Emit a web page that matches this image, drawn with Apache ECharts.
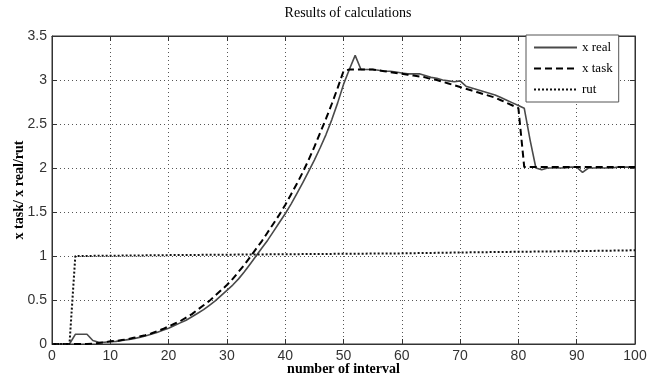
<!DOCTYPE html>
<html>
<head>
<meta charset="utf-8">
<script src="https://cdn.jsdelivr.net/npm/echarts@6/dist/echarts.min.js"></script>
<style>
    html, body {margin: 0; padding: 0; background: #fff;}
    #chart {width: 647px; height: 379px;}
</style>
</head>
<body>
<div id="chart"></div>
<script>
// number of interval, 0..100
const intervals = [
    0, 1, 2, 3, 4, 5, 6, 7, 8, 9,
    10, 11, 12, 13, 14, 15, 16, 17, 18, 19,
    20, 21, 22, 23, 24, 25, 26, 27, 28, 29,
    30, 31, 32, 33, 34, 35, 36, 37, 38, 39,
    40, 41, 42, 43, 44, 45, 46, 47, 48, 49,
    50, 51, 52, 53, 54, 55, 56, 57, 58, 59,
    60, 61, 62, 63, 64, 65, 66, 67, 68, 69,
    70, 71, 72, 73, 74, 75, 76, 77, 78, 79,
    80, 81, 82, 83, 84, 85, 86, 87, 88, 89,
    90, 91, 92, 93, 94, 95, 96, 97, 98, 99,
    100
]

const xReal = [
    0, 0, 0, 0, 0.11, 0.11, 0.11, 0.04, 0.02, 0.02,
    0.025, 0.03, 0.04, 0.05, 0.06, 0.075, 0.09, 0.11, 0.13, 0.155,
    0.18, 0.21, 0.24, 0.27, 0.31, 0.35, 0.39, 0.44, 0.49, 0.55,
    0.61, 0.67, 0.74, 0.82, 0.91, 1.0, 1.09, 1.18, 1.28, 1.38,
    1.48, 1.59, 1.71, 1.83, 1.96, 2.09, 2.23, 2.38, 2.55, 2.74,
    2.95, 3.12, 3.28, 3.12, 3.12, 3.12, 3.11, 3.1, 3.1, 3.09,
    3.08, 3.07, 3.07, 3.07, 3.05, 3.03, 3.02, 3.0, 2.99, 2.98,
    2.99, 2.93, 2.91, 2.89, 2.87, 2.85, 2.83, 2.8, 2.77, 2.74,
    2.71, 2.68, 2.32, 2.0, 1.98, 2.0, 2.0, 2.0, 2.0, 2.01,
    2.01, 1.95, 2.0, 2.0, 2.0, 2.0, 2.0, 2.01, 2.01, 2.01,
    2.0
]

const xTask = [
    0, 0, 0, 0, 0, 0, 0, 0.005, 0.01, 0.02,
    0.03, 0.035, 0.045, 0.055, 0.07, 0.085, 0.1, 0.12, 0.145, 0.17,
    0.2, 0.23, 0.26, 0.3, 0.34, 0.39, 0.44, 0.49, 0.55, 0.61,
    0.67, 0.74, 0.82, 0.9, 0.99, 1.08, 1.17, 1.27, 1.37, 1.47,
    1.58, 1.7, 1.82, 1.95, 2.09, 2.24, 2.4, 2.56, 2.73, 2.91,
    3.1, 3.12, 3.12, 3.12, 3.12, 3.12, 3.11, 3.1, 3.09, 3.08,
    3.07, 3.06, 3.05, 3.04, 3.03, 3.01, 3.0, 2.98, 2.96, 2.94,
    2.92, 2.9, 2.88, 2.86, 2.84, 2.82, 2.8, 2.77, 2.74, 2.71,
    2.68, 2.01, 2.01, 2.01, 2.01, 2.01, 2.01, 2.01, 2.01, 2.01,
    2.01, 2.01, 2.01, 2.01, 2.01, 2.01, 2.01, 2.01, 2.01, 2.01,
    2.01
]

// rut is read at fewer points
const rutX = [0, 1, 2, 3, 4, 10, 20, 30, 40, 50, 60, 70, 80, 90, 100]
const rutY = [0, 0, 0, 0, 1.0, 1.003, 1.01, 1.015, 1.02, 1.025, 1.03, 1.04, 1.048, 1.055, 1.065]

const pairs = (xs, ys) => xs.map((x, i) => [x, ys[i]])

const chart = echarts.init(document.getElementById('chart'))

const tickFont = {fontFamily: '"Liberation Sans", Arial, sans-serif', fontSize: 14, color: '#333'}
const gridLine = {show: true, lineStyle: {color: '#555', width: 1, type: [1, 3]}}

const option = {
    backgroundColor: '#fff',
    animation: false,
    title: {
        text: 'Results of calculations',
        left: 343,
        top: 1,
        textAlign: 'center',
        textStyle: {fontFamily: '"Liberation Serif", "Times New Roman", serif', fontSize: 14, fontWeight: 'normal', color: '#000'}
    },
    legend: {
        orient: 'vertical',
        left: 526,
        top: 35,
        padding: [6, 6, 6, 7],
        itemGap: 8,
        itemWidth: 43,
        itemHeight: 14,
        backgroundColor: '#fff',
        borderColor: '#555',
        borderWidth: 1,
        borderRadius: 0,
        itemStyle: {opacity: 0},
        textStyle: {fontFamily: '"Liberation Serif", "Times New Roman", serif', fontSize: 13, color: '#000'},
        data: ['x real', 'x task', 'rut']
    },
    grid: {
        left: 52,
        right: 12,
        top: 36,
        bottom: 35,
        containLabel: false,
        outerBoundsMode: 'none',
        show: true,
        borderColor: '#333',
        borderWidth: 1
    },
    xAxis: [
        {
            type: 'value',
            min: 0,
            max: 100,
            interval: 10,
            name: 'number of interval',
            nameLocation: 'middle',
            nameGap: 18,
            nameMoveOverlap: false,
            nameTextStyle: {fontFamily: '"Liberation Serif", "Times New Roman", serif', fontSize: 14, fontWeight: 'bold', color: '#000', verticalAlign: 'top'},
            axisLine: {show: true, onZero: false, lineStyle: {color: '#333'}},
            axisTick: {show: true, inside: true, length: 5, lineStyle: {color: '#333'}},
            axisLabel: Object.assign({margin: 5}, tickFont),
            splitLine: gridLine
        },
        {
            type: 'value',
            position: 'top',
            min: 0,
            max: 100,
            interval: 10,
            axisLine: {show: true, onZero: false, lineStyle: {color: '#333'}},
            axisTick: {show: true, inside: true, length: 5, lineStyle: {color: '#333'}},
            axisLabel: {show: false},
            splitLine: {show: false}
        }
    ],
    yAxis: [
        {
            type: 'value',
            min: 0,
            max: 3.5,
            interval: 0.5,
            name: 'x task/ x real/rut',
            nameLocation: 'middle',
            nameGap: 26,
            nameMoveOverlap: false,
            nameTextStyle: {fontFamily: '"Liberation Serif", "Times New Roman", serif', fontSize: 14, fontWeight: 'bold', color: '#000'},
            axisLine: {show: true, onZero: false, lineStyle: {color: '#333'}},
            axisTick: {show: true, inside: true, length: 5, lineStyle: {color: '#333'}},
            axisLabel: Object.assign({margin: 5}, tickFont),
            splitLine: gridLine
        },
        {
            type: 'value',
            position: 'right',
            min: 0,
            max: 3.5,
            interval: 0.5,
            axisLine: {show: true, onZero: false, lineStyle: {color: '#333'}},
            axisTick: {show: true, inside: true, length: 5, lineStyle: {color: '#333'}},
            axisLabel: {show: false},
            splitLine: {show: false}
        }
    ],
    series: [
        {
            name: 'x real',
            type: 'line',
            symbol: 'none',
            color: '#444',
            lineStyle: {color: '#4a4a4a', width: 1.6, type: 'solid'},
            data: pairs(intervals, xReal)
        },
        {
            name: 'x task',
            type: 'line',
            symbol: 'none',
            color: '#000',
            lineStyle: {color: '#000', width: 2, type: [7, 4]},
            data: pairs(intervals, xTask)
        },
        {
            name: 'rut',
            type: 'line',
            symbol: 'none',
            color: '#111',
            lineStyle: {color: '#111', width: 2, type: [2, 2]},
            data: pairs(rutX, rutY)
        }
    ]
}

chart.setOption(option)
</script>
</body>
</html>
